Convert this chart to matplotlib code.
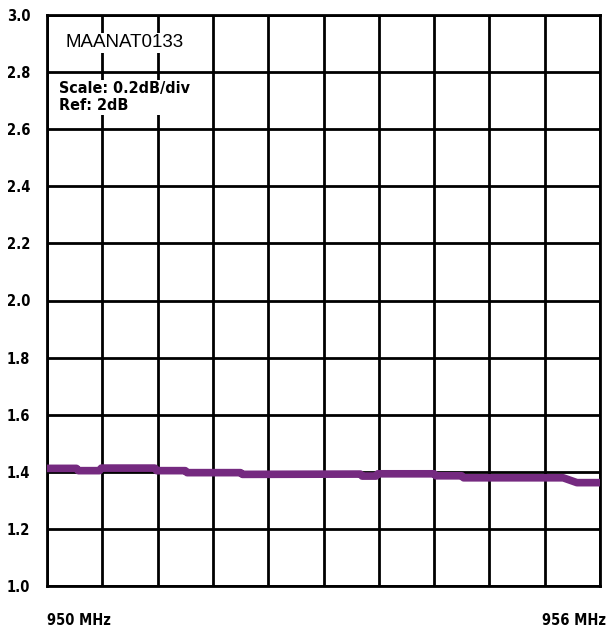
import matplotlib.pyplot as plt
import numpy as np

# insertion loss trace (freq in MHz, loss in dB)
freq = [950.0, 950.32, 950.34, 950.57, 950.59, 951.17, 951.19, 951.5, 951.52,
        952.1, 952.12, 953.4, 953.42, 953.57, 953.59, 954.2, 954.22, 954.5,
        954.52, 955.6, 955.75, 956.0]
loss = [1.412, 1.412, 1.404, 1.404, 1.413, 1.413, 1.404, 1.404, 1.397,
        1.397, 1.391, 1.392, 1.385, 1.385, 1.393, 1.393, 1.386, 1.386,
        1.379, 1.379, 1.362, 1.362]

yticks = [1.0, 1.2, 1.4, 1.6, 1.8, 2.0, 2.2, 2.4, 2.6, 2.8, 3.0]
xgrid = np.linspace(950, 956, 11)

plt.rcParams['font.family'] = ['DejaVu Sans']
plt.rcParams['font.stretch'] = 'condensed'

fig = plt.figure(figsize=(6.07, 6.31), dpi=100)
ax = fig.add_axes([47 / 607, 1 - 586 / 631, 553 / 607, 571 / 631])

ax.plot(freq, loss, color="#752a80", lw=5.5, solid_capstyle="butt", zorder=3)

ax.set_xlim(950, 956)
ax.set_ylim(1.0, 3.0)
ax.set_yticks(yticks)
ax.set_yticklabels([f"{v:.1f}" for v in yticks], fontsize=10.5, fontweight="bold")
ax.set_xticks(xgrid)
ax.set_xticklabels([])
ax.tick_params(length=0, pad=12)
ax.grid(True, color="black", lw=2)
for s in ax.spines.values():
    s.set_linewidth(2)

ax.text(950.0, -0.06, "950 MHz", transform=ax.get_xaxis_transform(),
        ha="left", va="center", fontsize=10.5, fontweight="bold")
ax.text(956.07, -0.06, "956 MHz", transform=ax.get_xaxis_transform(),
        ha="right", va="center", fontsize=10.5, fontweight="bold")

ax.text(0.033, 0.951, "MAANAT0133", transform=ax.transAxes, fontsize=13.5,
        family=['Liberation Sans', 'DejaVu Sans'], ha="left", va="center",
        bbox=dict(facecolor="white", edgecolor="none", pad=1), zorder=4)
ax.text(0.022, 0.856, "Scale: 0.2dB/div\nRef: 2dB", transform=ax.transAxes,
        fontsize=11.5, fontweight="bold", ha="left", va="center", linespacing=1.2,
        bbox=dict(facecolor="white", edgecolor="none", pad=1), zorder=4)

fig.savefig("out.png", dpi=100)
